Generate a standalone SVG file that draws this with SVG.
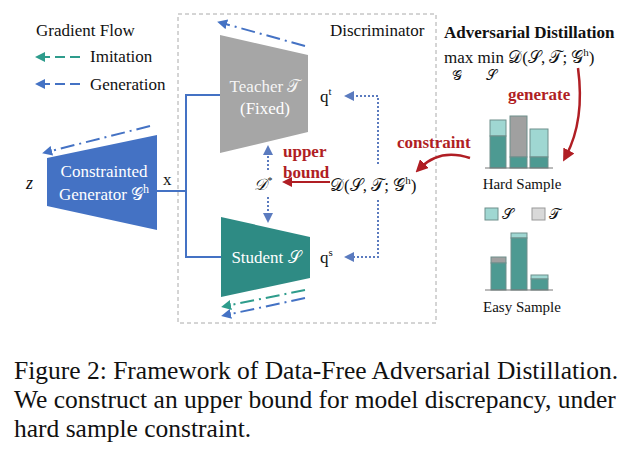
<svg xmlns="http://www.w3.org/2000/svg" width="639" height="450" viewBox="0 0 639 450">
<defs>
<marker id="ab" viewBox="0 0 10 10" refX="5" refY="5" markerWidth="5" markerHeight="5" orient="auto-start-reverse"><path d="M0,0L10,5L0,10z" fill="#4472c4"/></marker>
<marker id="at" viewBox="0 0 10 10" refX="5" refY="5" markerWidth="5" markerHeight="5" orient="auto-start-reverse"><path d="M0,0L10,5L0,10z" fill="#2e9c8c"/></marker>
<marker id="ad" viewBox="0 0 10 10" refX="5" refY="5" markerWidth="5" markerHeight="5" orient="auto-start-reverse"><path d="M0,0L10,5L0,10z" fill="#5b7bbf"/></marker>
<marker id="ar" viewBox="0 0 10 10" refX="5" refY="5" markerWidth="5" markerHeight="5" orient="auto-start-reverse"><path d="M0,0L10,5L0,10z" fill="#b01e24"/></marker>
</defs>
<style>
text{font-family:"Liberation Serif",serif;fill:#111}
.w{fill:#fff;font-size:17px}
.r{fill:#b01e24;font-weight:bold;font-size:17px}
.gb{stroke:#4472c4;stroke-width:2;fill:none;stroke-dasharray:14 5 2 5}
.gt{stroke:#2e9c8c;stroke-width:2;fill:none;stroke-dasharray:14 5 2 5}
.dot{stroke:#5b7bbf;stroke-width:2;fill:none;stroke-dasharray:2 2}
.dk{fill:#4d9a92;stroke:#6f8f8c}
.lt{fill:#9fd7d2;stroke:#6f8f8c}
.gy{fill:#a0a0a0;stroke:#6f8f8c}
</style>
<rect width="639" height="450" fill="#fff"/>
<rect x="178" y="14" width="258" height="309" fill="none" stroke="#aaa" stroke-dasharray="4 3"/>
<text x="330" y="36" font-size="17">Discriminator</text>
<g id="legend">
<text x="36" y="36" font-size="17">Gradient Flow</text>
<line x1="80" y1="57" x2="40" y2="57" stroke="#2e9c8c" stroke-width="2" stroke-dasharray="10 5" marker-end="url(#at)"/>
<text x="90" y="62" font-size="17">Imitation</text>
<line x1="80" y1="84" x2="40" y2="84" stroke="#4472c4" stroke-width="2" stroke-dasharray="10 5" marker-end="url(#ab)"/>
<text x="90" y="90" font-size="17">Generation</text>
</g>
<g id="connectors">
<polyline points="157,191 186,191" stroke="#4472c4" stroke-width="2" fill="none"/>
<polyline points="220,95 186,95 186,257 221,257" stroke="#4472c4" stroke-width="2" fill="none"/>
<line x1="305" y1="46" x2="222" y2="23" class="gb" marker-end="url(#ab)"/>
<line x1="150" y1="126" x2="47" y2="152" class="gb" marker-end="url(#ab)"/>
<line x1="305" y1="290" x2="226" y2="306" class="gt" marker-end="url(#at)"/>
<line x1="305" y1="298" x2="226" y2="315" class="gb" marker-end="url(#ab)"/>
<line x1="268" y1="170" x2="268" y2="150" class="dot" marker-end="url(#ad)"/>
<line x1="268" y1="197" x2="268" y2="218" class="dot" marker-end="url(#ad)"/>
<polyline points="378,164 378,96 349,96" class="dot" marker-end="url(#ad)"/>
<polyline points="378,200 378,257 349,257" class="dot" marker-end="url(#ad)"/>
<line x1="330" y1="182" x2="287" y2="182" stroke="#b01e24" stroke-width="2" marker-end="url(#ar)"/>
<path d="M470,158 Q440,148 420,168" stroke="#b01e24" stroke-width="2.5" fill="none" marker-end="url(#ar)"/>
<path d="M578,68 Q585,120 566,156" stroke="#b01e24" stroke-width="2.5" fill="none" marker-end="url(#ar)"/>
</g>
<g id="generator">
<polygon points="47,158 157,135 157,230 47,206" fill="#4472c4"/>
<text class="w" x="104" y="177" text-anchor="middle">Constrainted</text>
<text class="w" x="104" y="200" text-anchor="middle">Generator 𝒢<tspan font-size="12" dy="-7">h</tspan></text>
<text x="26" y="189" font-size="18" font-style="italic">z</text>
<text x="163" y="185" font-size="17">x</text>
</g>
<g id="teacher">
<polygon points="220,35 308,55 308,132 220,153" fill="#a6a6a6"/>
<text class="w" x="265" y="92" text-anchor="middle" fill-opacity="0.9">Teacher 𝒯</text>
<text class="w" x="265" y="114" text-anchor="middle">(Fixed)</text>
<text x="320" y="102" font-size="17">q<tspan font-size="11" dy="-7">t</tspan></text>
</g>
<g id="student">
<polygon points="221,217 310,237 310,278 221,297" fill="#2e8b84"/>
<text class="w" x="266" y="263" text-anchor="middle">Student 𝒮</text>
<text x="320" y="263" font-size="17">q<tspan font-size="11" dy="-7">s</tspan></text>
</g>
<g id="dstar">
<text x="254" y="190" font-size="16" font-style="italic">𝒟<tspan font-size="10" dy="-6">*</tspan></text>
<text class="r" x="283" y="157">upper</text>
<text class="r" x="283" y="178">bound</text>
</g>
<g id="loss">
<text x="330" y="191" font-size="17">𝒟(𝒮, 𝒯; 𝒢<tspan font-size="11" dy="-7">h</tspan><tspan dy="7">)</tspan></text>
</g>
<g id="adv">
<text x="444" y="38" font-size="17" font-weight="bold">Adversarial Distillation</text>
<text x="444" y="63" font-size="17">max min 𝒟(𝒮, 𝒯; 𝒢<tspan font-size="11" dy="-7">h</tspan><tspan dy="7">)</tspan></text>
<text x="452" y="80" font-size="14">𝒢</text>
<text x="486" y="80" font-size="14">𝒮</text>
<text class="r" x="508" y="100">generate</text>
<text class="r" x="397" y="148">constraint</text>
</g>
<g id="hard">
<rect class="lt" x="490" y="120" width="16" height="16"/><rect class="dk" x="490" y="136" width="16" height="32"/>
<rect class="gy" x="510" y="116" width="17" height="41"/><rect class="dk" x="510" y="157" width="17" height="11"/>
<rect class="lt" x="530" y="129" width="18" height="28"/><rect class="dk" x="530" y="157" width="18" height="11"/>
<line x1="485" y1="168" x2="553" y2="168" stroke="#777"/>
<text x="522" y="189" font-size="15" text-anchor="middle">Hard Sample</text>
</g>
<g id="barlegend">
<rect class="lt" x="485" y="208" width="13" height="12"/><text x="502" y="219" font-size="15">𝒮</text>
<rect x="532" y="208" width="13" height="12" fill="#d9d9d9" stroke="#999"/><text x="549" y="219" font-size="15">𝒯</text>
</g>
<g id="easy">
<rect class="gy" x="491" y="257" width="15" height="6"/><rect class="dk" x="491" y="263" width="15" height="27"/>
<rect class="lt" x="511" y="233" width="16" height="5"/><rect class="dk" x="511" y="238" width="16" height="52"/>
<rect class="lt" x="531" y="275" width="17" height="4"/><rect class="dk" x="531" y="279" width="17" height="11"/>
<line x1="485" y1="290" x2="553" y2="290" stroke="#777"/>
<text x="522" y="312" font-size="15" text-anchor="middle">Easy Sample</text>
</g>
<g id="caption">
<text x="14" y="379" font-size="25.5">Figure 2: Framework of Data-Free Adversarial Distillation.</text>
<text x="14" y="408" font-size="25.5">We construct an upper bound for model discrepancy, under</text>
<text x="14" y="437" font-size="25.5">hard sample constraint.</text>
</g>
</svg>
